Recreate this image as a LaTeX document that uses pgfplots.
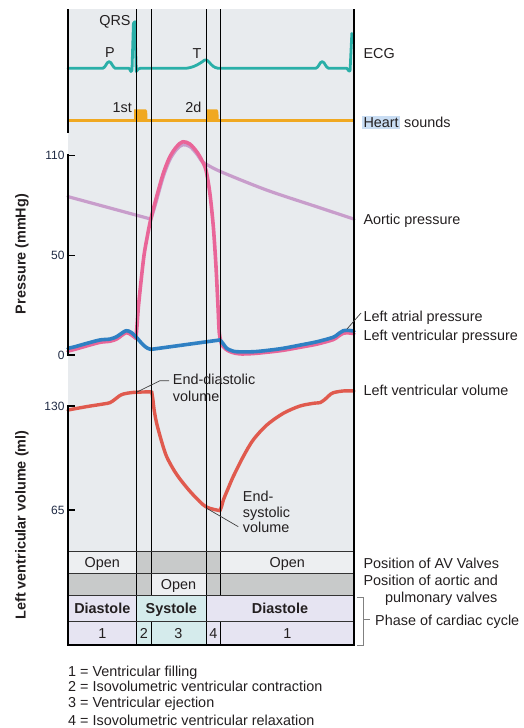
\documentclass[border=0pt]{standalone}
\usepackage{pgfplots}
\pgfplotsset{compat=1.18}
\usepackage{fontspec}
\setmainfont{Liberation Sans}
\definecolor{panel}{HTML}{E8EBEE}
\definecolor{ecg}{HTML}{2AAFA8}
\definecolor{sound}{HTML}{F0A820}
\definecolor{aortic}{HTML}{C89DCB}
\definecolor{lvp}{HTML}{E96598}
\definecolor{lap}{HTML}{2F80C3}
\definecolor{vol}{HTML}{E05A4E}
\definecolor{cellgray}{HTML}{C8CACA}
\definecolor{celllight}{HTML}{EDEFF1}
\definecolor{lav}{HTML}{E6E4F2}
\definecolor{cyanc}{HTML}{D5EBEC}
\definecolor{txt}{HTML}{231F20}
\definecolor{hl}{HTML}{C9DDF3}
\definecolor{tickc}{HTML}{1F2A44}

\pgfplotsset{panelax/.style={scale only axis, width=286pt, xmin=0, xmax=800,
  anchor=south west, axis line style={draw=none}, xtick=\empty, ytick=\empty, clip=false},
  valax/.style={ytick pos=left, tick align=inside, major tick length=7pt,
  ytick style={line width=1.5pt, black},
  yticklabel style={font=\fontsize{12}{12}\selectfont, text=tickc}},
  curve/.style={line cap=round, line join=round}}

\begin{document}
\begin{tikzpicture}[font=\fontsize{14.4}{16}\selectfont, every node/.style={text=txt}]
\useasboundingbox (0pt,0pt) rectangle (524pt,-728pt);
\begin{scope}[x=1pt,y=-1pt]
\fill[panel] (68,9) rectangle (354,551.7);
\fill[celllight] (68,551.7) rectangle (136.7,573);
\fill[cellgray] (136.7,551.7) rectangle (220.7,573);
\fill[celllight] (220.7,551.7) rectangle (354,573);
\fill[cellgray] (68,573) rectangle (151,595);
\fill[celllight] (151,573) rectangle (206,595);
\fill[cellgray] (206,573) rectangle (354,595);
\fill[lav] (68,595) rectangle (136.7,645);
\fill[cyanc] (136.7,595) rectangle (206,645);
\fill[lav] (206,595) rectangle (354,645);
\end{scope}

% ECG
\begin{axis}[panelax, at={(68pt,-128.3pt)}, height=120pt, ymin=-1.5, ymax=1.5]
\addplot[ecg, line width=2.8pt, curve] coordinates {
(0,0)(97,0)(102,0.03)(106,0.08)(110,0.14)(115,0.165)(120,0.14)(124,0.08)(128,0.03)(132,0)
(171,0)(176,-0.08)(179,-0.05)(183,1.12)(187,1.165)(191,-0.08)(196,-0.02)(202,0)
(330,0)(340,0.015)(350,0.04)(360,0.08)(368,0.12)(375,0.16)(381,0.2)(385,0.21)(389,0.2)(394,0.16)(400,0.1)(406,0.05)(412,0.02)(420,0)
(693,0)(698,0.03)(702,0.08)(706,0.14)(711,0.165)(716,0.14)(720,0.08)(724,0.03)(729,0)
(780,0)(786,-0.07)(789,-0.06)(794,0.875)};
\end{axis}

% Heart sounds
\begin{axis}[panelax, at={(68pt,-130.7pt)}, height=32.1pt, ymin=-1, ymax=2]
\addplot[sound, line width=3pt] coordinates {(0,0)(800,0)};
\addplot[fill=sound, draw=none] coordinates {(185,0)(185,1)(218,1)(221,0.85)(222,0.5)(222,0)} \closedcycle;
\addplot[fill=sound, draw=none] coordinates {(388,0)(388,1)(417,1)(420,0.85)(421,0.5)(421,0)} \closedcycle;
\end{axis}

% Pressure
\begin{axis}[panelax, valax, at={(68pt,-360.44pt)}, height=222.88pt, ymin=-3, ymax=120,
  ytick={0,55,110}, yticklabels={0,50,110}]
\addplot[aortic, line width=3.2pt, curve] coordinates {(0,87.4)(232,75)};
\addplot[aortic, line width=3.2pt, curve, smooth] coordinates {(232,75)(240,80)(248,85.5)(266.7,98.5)(285,107.8)(304,113.5)(321,116)(341,115)(360,111)(374,107)(386,105.4)};
\addplot[aortic, line width=3.2pt, curve, smooth] coordinates {(386,105.4)(427,101.2)(556,91)(696,81.8)(800,75)};
\addplot[lvp, line width=3.6pt, curve, smooth] coordinates {(0,2.2)(20,3.2)(52,5)(89.5,7)(117.5,7.6)(136,8.8)(150,10.8)(162,12.3)(170,12)(178,11)(190,9.2)};
\addplot[lvp, line width=3.6pt, curve, smooth] coordinates {(190,9.2)(193,16)(197,26.7)(205,42)(212.6,55)(220,63.5)(231,74.5)(248,87.4)(266.7,100.3)(285,109.4)(304,115)(321,117.7)(341,116.4)(360,112.2)(374,107.6)(386,102)(397,89)(406.5,70.8)(414,48.7)(419.6,26.7)(423.3,12)(430,5.5)};
\addplot[lvp, line width=3.6pt, curve, smooth] coordinates {(430,5.5)(443,3)(458,1.5)(481,0.6)(518,0.8)(560,1.6)(602,2.6)(650,4.3)(696,6)(742,8.5)(755,10.2)(770,12)(785,12.2)(800,11.8)};
\addplot[lap, line width=3.6pt, curve, smooth] coordinates {(0,3.7)(20,4.6)(52,6.4)(89.5,8.3)(117.5,8.8)(136,10.1)(150,12)(162,13.4)(170,13.2)(178,12.3)(190,10.1)(200,7.8)(210.7,5.5)(222,3.8)(232,3.1)};
\addplot[lap, line width=3.6pt, curve] coordinates {(232,3.1)(425,8.3)};
\addplot[lap, line width=3.6pt, curve, smooth] coordinates {(425,8.3)(433,6.5)(443.8,3.7)(458,2.4)(472,1.8)(518,1.8)(560,2.6)(602,3.7)(650,5.5)(696,7.3)(742,9.8)(755,11.5)(770,13.4)(785,13.6)(800,13.2)};
\end{axis}

% Volume
\begin{axis}[panelax, valax, at={(68pt,-550pt)}, height=179.2pt, ymin=40, ymax=152,
  ytick={65,130}, yticklabels={65,130}]
\addplot[vol, line width=3.4pt, curve, smooth] coordinates {(0,127.5)(52,129.6)(100,131.3)(117.5,132.1)(131.5,134.2)(143,136.2)(155,137.5)(183,138.5)(234,138.9)};
\addplot[vol, line width=3.4pt, curve, smooth] coordinates {(234,138.9)(237,135)(241,127.5)(248,119.2)(262,107.7)(276,98.3)(299,88.9)(322.5,81.7)(350.5,74.4)(386,67)(425,64.6)};
\addplot[vol, line width=3.4pt, curve, smooth] coordinates {(425,64.6)(430,67.5)(434.6,71.3)(448,78.5)(462,85.8)(490,98.3)(518,108.8)(556,118.1)(602,125.4)(649,130)(690,131.8)(705,132.1)(719,134.2)(730,136.5)(742,138.3)(770,139.4)(800,139.4)};
\end{axis}

\begin{scope}[x=1pt,y=-1pt]
\tikzset{lab/.style={anchor=base west, inner sep=0pt}, ctr/.style={anchor=base, inner sep=0pt}}
% vertical phase lines
\draw[black, line width=0.95pt] (136.7,9) -- (136.7,645) (206,9) -- (206,645);
\draw[black, line width=0.95pt] (151,9) -- (151,595) (151,621) -- (151,645);
\draw[black, line width=0.95pt] (220.7,9) -- (220.7,595) (220.7,621) -- (220.7,645);
% table lines
\draw[black!80, line width=0.9pt] (68,551.7) -- (354,551.7) (68,573) -- (354,573) (68,595) -- (354,595) (68,621) -- (354,621);
% borders
\draw[black, line width=2pt] (68,9) -- (68,133);
\draw[black, line width=2pt] (68,154.3) -- (68,356);
\draw[black, line width=2pt] (68,405) -- (68,645) -- (354,645) -- (354,9);
% ECG labels
\node[ctr] at (115,25) {QRS};
\node[ctr] at (110,57.3) {P};
\node[ctr] at (197,58.3) {T};
\node[ctr] at (122.2,112.3) {1st};
\node[ctr] at (193.3,112.3) {2d};
% right labels
\node[lab] at (363.3,58.3) {ECG};
\node[lab] at (361.8,127) {{\fboxsep=1.5pt\colorbox{hl}{Heart}} sounds};
\node[lab] at (363.3,224) {Aortic pressure};
\node[lab] at (363.3,321) {Left atrial pressure};
\node[lab] at (363.3,340) {Left ventricular pressure};
\node[lab] at (363.3,395.5) {Left ventricular volume};
\node[lab] at (363.3,568.3) {Position of AV Valves};
\node[lab] at (363.3,585.7) {Position of aortic and};
\node[lab] at (385,602.5) {pulmonary valves};
\node[lab] at (375,625) {Phase of cardiac cycle};
% leaders
\draw[black!75, line width=0.7pt] (137,392) -- (160,380.7) -- (169,380.7);
\draw[black!75, line width=0.7pt] (206.7,508.3) -- (238.3,526.7);
\draw[black!75, line width=0.7pt] (347,329) -- (361,313);
\draw[black!50, line width=0.8pt] (357,597) -- (363,597) -- (363,645.5) -- (357,645.5) (363,619) -- (370,619);
% annotations
\node[lab] at (172.7,384) {End-diastolic};
\node[lab] at (172.7,401) {volume};
\node[lab] at (242.7,501.7) {End-};
\node[lab] at (242.7,517.3) {systolic};
\node[lab] at (242.7,532) {volume};
% table text
\node[ctr] at (102.3,567.3) {Open};
\node[ctr] at (287.3,567.3) {Open};
\node[ctr] at (178.5,589) {Open};
\node[ctr, font=\fontsize{14.4}{16}\selectfont\bfseries] at (102.3,613) {Diastole};
\node[ctr, font=\fontsize{14.4}{16}\selectfont\bfseries] at (171.3,613) {Systole};
\node[ctr, font=\fontsize{14.4}{16}\selectfont\bfseries] at (280,613) {Diastole};
\node[ctr] at (102.3,638) {1};
\node[ctr] at (143.8,638) {2};
\node[ctr] at (178.5,638) {3};
\node[ctr] at (213.3,638) {4};
\node[ctr] at (287.3,638) {1};
% axis titles
\node[rotate=90, font=\fontsize{14.4}{16}\selectfont\bfseries] at (22,254) {Pressure (mmHg)};
\node[rotate=90, font=\fontsize{14.4}{16}\selectfont\bfseries] at (22,525) {Left ventricular volume (ml)};
% legend
\node[lab] at (68,676.7) {1 = Ventricular filling};
\node[lab] at (68,691.7) {2 = Isovolumetric ventricular contraction};
\node[lab] at (68,707.3) {3 = Ventricular ejection};
\node[lab] at (68,725) {4 = Isovolumetric ventricular relaxation};
\end{scope}
\end{tikzpicture}
\end{document}
